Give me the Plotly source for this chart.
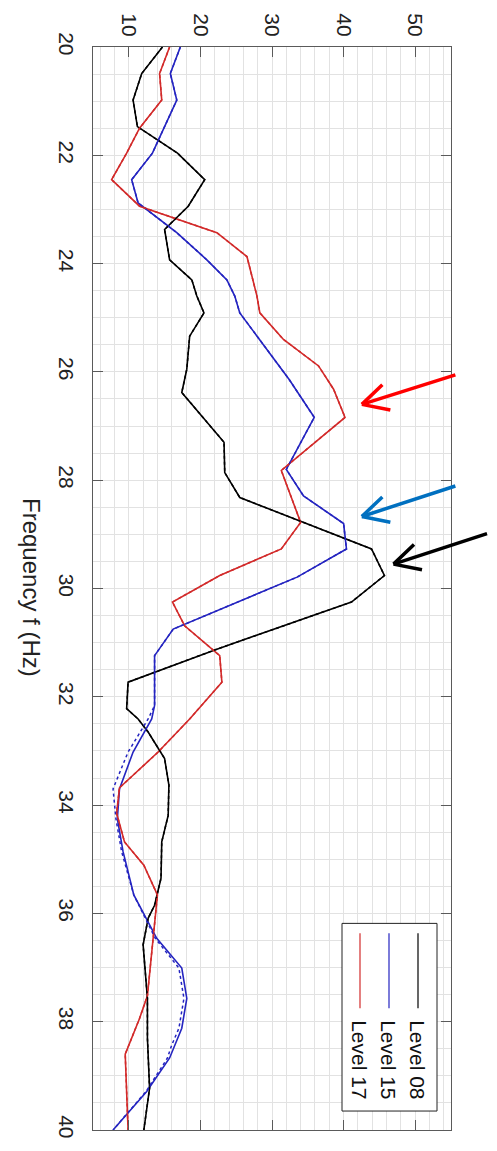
import plotly.graph_objects as go

# ---------------- data ----------------
freq_l08 = [20.0, 20.36, 20.49, 20.98, 21.47, 21.96, 22.45, 22.94, 23.37, 23.93, 24.3, 24.6, 24.91,
            25.34, 25.95, 26.38, 27.3, 27.86, 28.32, 29.27, 29.76, 30.25, 31.12, 31.73, 32.22,
            32.41, 32.65, 33.14, 33.63, 34.19, 34.68, 35.35, 35.85, 36.09, 36.58, 37.57, 38.3,
            39.23, 40.0]
val_l08 = [14.7, 12.5, 11.8, 10.6, 11.2, 16.8, 20.6, 18.3, 15.0, 15.7, 18.8, 19.5, 20.5,
           18.5, 18.1, 17.4, 23.3, 23.4, 25.5, 43.9, 45.7, 41.1, 22.3, 9.9, 9.7,
           11.3, 12.7, 15.0, 15.6, 15.5, 14.6, 14.5, 13.6, 12.7, 12.0, 12.6, 12.6,
           12.9, 12.1]

freq_l15 = [20.0, 20.49, 20.98, 21.71, 21.96, 22.45, 22.88, 23.43, 23.93, 24.3, 24.6, 24.91,
            26.14, 26.84, 27.8, 28.29, 28.8, 29.27, 29.79, 30.75, 31.24, 32.16, 32.41, 33.02,
            33.7, 34.25, 34.86, 35.66, 36.46, 37.01, 37.57, 38.12, 38.43, 38.67, 39.29, 40.0]
val_l15 = [17.2, 15.8, 16.7, 14.1, 13.3, 10.4, 11.3, 16.7, 20.9, 23.7, 24.8, 25.5,
           32.4, 35.9, 32.0, 34.4, 40.0, 40.4, 33.5, 16.2, 13.6, 13.6, 13.2, 10.6,
           8.7, 8.4, 9.2, 10.7, 13.9, 17.4, 18.1, 17.4, 16.4, 15.7, 12.5, 7.8]
# second (dashed) Level 15 trace, where it separates from the solid one
freq_l15b = [20.0, 20.49, 20.98, 21.71, 21.96, 22.45, 22.88, 23.43, 23.93, 24.3, 24.6, 24.91,
             26.14, 26.84, 27.8, 28.29, 28.8, 29.27, 29.79, 30.75, 31.24, 32.16, 32.41, 33.02,
             33.7, 34.25, 34.86, 35.66, 36.46, 37.01, 37.57, 38.12, 38.43, 38.67, 39.29, 40.0]
val_l15b = [17.2, 15.8, 16.7, 14.1, 13.3, 10.4, 11.3, 16.7, 20.9, 23.7, 24.8, 25.5,
            32.4, 35.9, 32.0, 34.4, 40.0, 40.4, 33.5, 16.2, 13.6, 13.6, 12.7, 9.9,
            7.8, 8.2, 9.0, 10.7, 13.7, 17.0, 17.7, 17.0, 16.0, 15.4, 12.4, 7.8]

freq_l17 = [20.0, 20.49, 20.98, 21.5, 21.96, 22.45, 22.94, 23.43, 23.87, 24.3, 24.6, 24.91,
            25.4, 25.89, 26.32, 26.84, 27.82, 28.78, 29.27, 29.52, 29.76, 30.25, 30.69, 31.24,
            31.73, 32.41, 33.02, 33.68, 34.15, 34.68, 35.11, 35.66, 37.52, 37.94, 38.6, 40.0]
val_l17 = [15.7, 14.3, 14.6, 11.5, 9.7, 7.6, 11.5, 22.3, 26.5, 27.3, 27.9, 28.3,
           31.6, 36.5, 38.6, 40.2, 31.3, 34.0, 31.3, 26.9, 22.7, 16.1, 17.8, 22.7,
           23.0, 18.5, 14.1, 8.7, 8.3, 9.4, 12.1, 14.0, 12.6, 11.5, 9.5, 9.9]

series_names = ["Level 08", "Level 15", "Level 17"]
series_colors = ["#000000", "#2424c0", "#d22a2a"]

value_ticks = [10, 20, 30, 40, 50]
freq_ticks = [20, 22, 24, 26, 28, 30, 32, 34, 36, 38, 40]

# arrows: tip (value, frequency) and tail offsets in px
arrow_tips_val = [42.55, 42.55, 46.97]
arrow_tips_freq = [26.60, 28.67, 29.55]
arrow_colors = ["#ff0000", "#0070c0", "#000000"]
arrow_tail = [(95, -30), (95, -31), (95, -31)]

FONT = "Liberation Sans, Arial, Helvetica, sans-serif"

fig = go.Figure()

solid = [(freq_l08, val_l08, 0), (freq_l15, val_l15, 1), (freq_l17, val_l17, 2)]
dashed = [(freq_l08, val_l08, 0), (freq_l15b, val_l15b, 1), (freq_l17, val_l17, 2)]

for f, v, i in solid:
    fig.add_trace(go.Scatter(x=v, y=f, mode="lines", name=series_names[i],
                             line=dict(color=series_colors[i], width=1.6),
                             showlegend=False))
for f, v, i in dashed:
    fig.add_trace(go.Scatter(x=v, y=f, mode="lines", name=series_names[i] + " (2)",
                             line=dict(color=series_colors[i], width=1.5, dash="dot"),
                             showlegend=False))

W, H = 497, 1151
L, R, T, B = 93, 46, 47, 19
pw, ph = W - L - R, H - T - B


def px(xp):
    return (xp - L) / pw


def py(yp):
    return 1 - (yp - T) / ph


grid_col = "#e2e2e2"
axis_col = "#5a5a5a"

fig.update_layout(
    width=W, height=H,
    margin=dict(l=L, r=R, t=T, b=B),
    paper_bgcolor="white", plot_bgcolor="white",
    font=dict(family=FONT, size=20, color="#222"),
    showlegend=False,
    xaxis=dict(range=[5, 55], side="top", tickmode="array", tickvals=value_ticks,
               tickangle=90, ticks="inside", ticklen=10, tickcolor=axis_col, tickwidth=1.2,
               showline=True, linecolor=axis_col, linewidth=1.2, mirror="ticks",
               showgrid=True, gridcolor=grid_col, gridwidth=1, zeroline=False,
               ticklabelstandoff=2,
               minor=dict(tick0=0, dtick=2, showgrid=True, gridcolor=grid_col, ticks=""),
               tickfont=dict(size=21, family=FONT, color="#222")),
    yaxis=dict(range=[40, 20], tickmode="array", tickvals=freq_ticks,
               tickangle=90, ticks="inside", ticklen=10, tickcolor=axis_col, tickwidth=1.2,
               showline=True, linecolor=axis_col, linewidth=1.2, mirror="ticks",
               showgrid=True, gridcolor=grid_col, gridwidth=1, zeroline=False,
               ticklabelstandoff=8,
               minor=dict(tick0=20, dtick=0.5, showgrid=True, gridcolor=grid_col, ticks=""),
               tickfont=dict(size=21, family=FONT, color="#222")),
)

annotations = []
# axis title (rotated reading top-to-bottom)
annotations.append(dict(text="Frequency f (Hz)", xref="paper", yref="paper",
                        x=px(32), y=py(588), xanchor="center", yanchor="middle",
                        textangle=90, showarrow=False,
                        font=dict(size=24, family=FONT, color="#222")))

# legend box
shapes = [dict(type="rect", xref="paper", yref="paper", x0=px(342), x1=px(437),
               y0=py(1113), y1=py(925), line=dict(color="#222", width=1),
               fillcolor="white", layer="above")]
leg_x = [418, 389, 360]
for i, name in enumerate(series_names):
    shapes.append(dict(type="line", xref="paper", yref="paper", x0=px(leg_x[i]), x1=px(leg_x[i]),
                       y0=py(935), y1=py(1010), line=dict(color=series_colors[i], width=1.2),
                       layer="above"))
    annotations.append(dict(text=name, xref="paper", yref="paper", x=px(leg_x[i]), y=py(1061),
                            xanchor="center", yanchor="middle", textangle=90, showarrow=False,
                            font=dict(size=21, family=FONT, color="#111")))

# arrows with open heads
arms = [(22, -21), (30, 6)]
for i in range(3):
    tip = dict(x=arrow_tips_val[i], y=arrow_tips_freq[i], xref="x", yref="y", text="",
               showarrow=True, arrowhead=0, arrowwidth=3.5, arrowcolor=arrow_colors[i],
               standoff=0, startstandoff=0)
    ax, ay = arrow_tail[i]
    annotations.append(dict(tip, ax=ax, ay=ay))
    for a in arms:
        annotations.append(dict(tip, ax=a[0], ay=a[1]))

fig.update_layout(annotations=annotations, shapes=shapes)

fig.write_html("out.html")
